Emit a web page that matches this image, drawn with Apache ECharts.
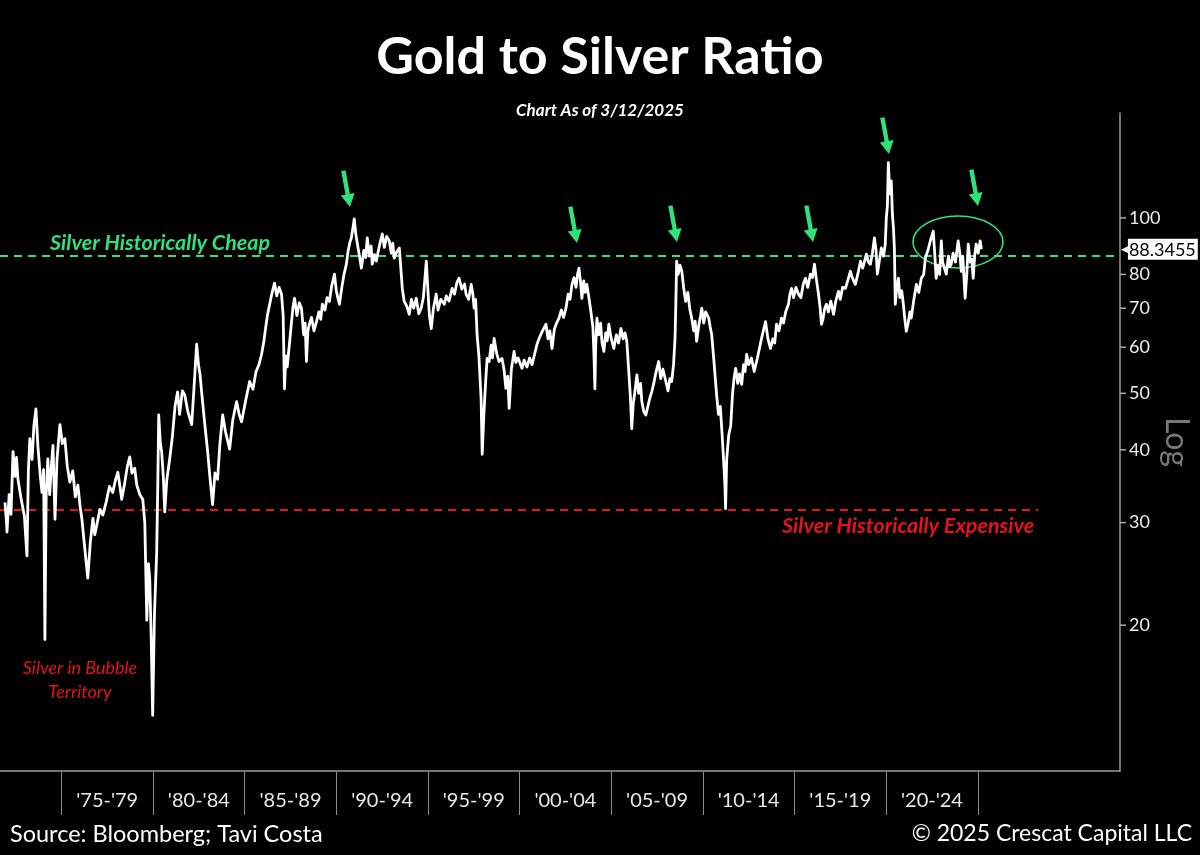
<!DOCTYPE html>
<html>
<head>
<meta charset="utf-8">
<script src="https://cdn.jsdelivr.net/npm/echarts@6/dist/echarts.min.js"></script>
<style>
html,body{margin:0;padding:0;background:#000;}
#chart{width:1200px;height:855px;}
</style>
</head>
<body>
<div id="chart"></div>
<script>
// ---- data: [decimal year, gold/silver ratio] ----
const ratio1972to1985 = [
[1971.92,32.5],[1972.00,30.2],[1972.03,28.9],[1972.15,33.5],[1972.25,31.0],[1972.36,39.7],[1972.47,36.0],[1972.55,38.8],
[1972.63,35.6],[1972.80,33.0],[1972.98,30.8],[1973.12,26.3],[1973.20,37.0],[1973.28,41.8],[1973.40,38.5],[1973.50,44.0],
[1973.61,47.0],[1973.72,40.5],[1973.85,36.0],[1973.94,33.8],[1974.03,37.0],[1974.10,18.9],[1974.17,33.5],[1974.26,38.6],
[1974.36,33.5],[1974.46,37.8],[1974.54,40.7],[1974.65,30.4],[1974.76,38.5],[1974.92,44.2],[1975.05,41.0],[1975.19,41.8],
[1975.32,37.5],[1975.46,35.2],[1975.62,36.8],[1975.76,33.2],[1975.90,34.8],[1976.02,32.0],[1976.12,30.4],[1976.28,27.0],
[1976.44,24.1],[1976.58,27.8],[1976.72,30.5],[1976.82,28.6],[1976.93,29.7],[1977.10,31.6],[1977.26,30.9],[1977.45,32.6],
[1977.62,34.6],[1977.80,33.8],[1977.95,35.5],[1978.08,36.6],[1978.20,34.5],[1978.29,32.9],[1978.45,35.0],[1978.60,37.5],
[1978.73,38.9],[1978.85,36.5],[1979.00,37.2],[1979.11,34.8],[1979.28,33.5],[1979.44,32.9],[1979.55,30.0],[1979.66,20.4],
[1979.75,25.5],[1979.82,24.0],[1979.90,19.0],[1979.98,14.0],[1980.08,21.0],[1980.20,26.7],[1980.26,35.0],[1980.31,45.9],
[1980.40,41.0],[1980.47,39.7],[1980.56,36.0],[1980.64,31.3],[1980.75,35.5],[1980.91,38.6],[1981.05,42.0],[1981.20,47.5],
[1981.34,50.3],[1981.45,46.0],[1981.60,50.5],[1981.73,49.7],[1981.90,46.5],[1982.11,44.2],[1982.25,52.0],[1982.38,60.7],
[1982.48,56.0],[1982.56,54.0],[1982.65,50.3],[1982.80,45.0],[1982.98,39.7],[1983.10,36.0],[1983.25,32.2],[1983.38,36.5],
[1983.52,35.6],[1983.65,41.0],[1983.80,45.9],[1983.95,43.0],[1984.18,40.1],[1984.35,45.0],[1984.56,48.4],[1984.70,46.0],
[1984.83,44.7],[1985.05,48.5],[1985.27,52.4]
];
const ratio1985to1998 = [
[1985.45,50.8],[1985.62,54.5],[1985.78,56.0],[1985.92,58.3],[1986.05,61.5],[1986.15,65.0],[1986.25,68.3],[1986.40,72.0],
[1986.52,75.0],[1986.63,77.3],[1986.75,73.5],[1986.88,76.0],[1987.01,74.0],[1987.10,68.0],[1987.17,50.9],[1987.25,58.0],
[1987.32,55.5],[1987.44,60.7],[1987.55,66.0],[1987.64,70.5],[1987.72,72.8],[1987.85,68.0],[1987.98,71.5],[1988.10,70.0],
[1988.22,63.0],[1988.30,66.0],[1988.37,56.7],[1988.45,64.0],[1988.53,65.7],[1988.65,67.5],[1988.78,64.0],[1988.92,66.4],
[1989.05,69.0],[1989.15,67.0],[1989.24,71.1],[1989.38,69.5],[1989.50,73.0],[1989.62,71.9],[1989.75,76.5],[1989.90,80.1],
[1990.00,75.0],[1990.08,73.0],[1990.17,71.1],[1990.30,76.0],[1990.42,80.0],[1990.55,83.3],[1990.65,88.0],[1990.75,91.0],
[1990.82,92.4],[1990.98,99.6],[1991.06,94.0],[1991.15,90.2],[1991.25,86.5],[1991.37,82.0],[1991.50,88.0],[1991.60,85.5],
[1991.69,92.4],[1991.80,86.0],[1991.90,89.5],[1991.96,83.3],[1992.08,86.5],[1992.18,84.3],[1992.30,88.0],[1992.40,91.0],
[1992.51,93.9],[1992.62,89.0],[1992.75,93.0],[1992.89,91.3],[1993.00,87.0],[1993.08,90.5],[1993.16,85.3],[1993.30,87.5],
[1993.44,88.8],[1993.52,82.0],[1993.60,75.7],[1993.70,72.0],[1993.85,70.5],[1993.98,68.3],[1994.10,72.5],[1994.22,70.0],
[1994.36,72.8],[1994.50,68.5],[1994.63,70.0],[1994.75,73.0],[1994.91,84.3],[1995.00,75.0],[1995.08,68.0],[1995.18,64.6],
[1995.30,70.0],[1995.45,74.0],[1995.55,69.5],[1995.70,72.5],[1995.89,71.1],[1996.00,73.5],[1996.15,72.0],[1996.32,75.7],
[1996.45,74.0],[1996.58,77.5],[1996.70,78.8],[1996.85,75.5],[1997.00,77.0],[1997.08,74.0],[1997.22,72.5],[1997.36,76.9],
[1997.45,74.0],[1997.52,70.0],[1997.60,72.5],[1997.68,63.1],[1997.78,58.0],[1997.90,49.0],[1997.96,39.3]
];
const ratio1998to2011 = [
[1998.05,46.0],[1998.15,52.5],[1998.23,57.4],[1998.34,56.7],[1998.45,60.5],[1998.52,57.5],[1998.61,62.1],[1998.75,58.5],
[1998.88,56.7],[1999.04,57.4],[1999.15,55.0],[1999.25,51.0],[1999.35,53.5],[1999.43,47.1],[1999.55,55.0],[1999.70,59.0],
[1999.80,56.5],[1999.92,57.5],[2000.13,55.2],[2000.25,57.0],[2000.40,55.5],[2000.55,57.5],[2000.68,56.0],[2000.80,58.0],
[2000.95,60.7],[2001.10,62.5],[2001.25,64.0],[2001.44,65.7],[2001.55,62.0],[2001.65,64.0],[2001.77,59.7],[2001.90,64.5],
[2002.02,66.0],[2002.15,67.3],[2002.28,69.5],[2002.40,67.5],[2002.53,70.0],[2002.65,74.0],[2002.75,72.5],[2002.86,76.9],
[2002.97,79.0],[2003.08,76.0],[2003.16,80.0],[2003.24,82.0],[2003.32,78.0],[2003.40,72.8],[2003.50,78.0],[2003.58,74.5],
[2003.67,76.9],[2003.78,73.0],[2003.89,69.1],[2004.00,65.0],[2004.06,58.0],[2004.11,50.9],[2004.15,60.0],[2004.22,67.3],
[2004.32,63.0],[2004.42,66.0],[2004.50,61.0],[2004.60,59.0],[2004.70,63.5],[2004.78,61.5],[2004.87,65.7],[2004.98,62.5],
[2005.14,59.7],[2005.28,63.0],[2005.40,61.0],[2005.53,64.6],[2005.65,62.0],[2005.75,63.5],[2005.85,61.4],[2005.95,55.0],
[2006.05,49.0],[2006.12,43.5],[2006.20,48.0],[2006.30,50.5],[2006.40,53.8],[2006.50,50.0],[2006.60,52.0],[2006.67,48.4],
[2006.78,46.5],[2006.89,45.9],[2007.00,47.5],[2007.10,49.0],[2007.21,50.3],[2007.32,52.0],[2007.45,54.5],[2007.59,56.7],
[2007.70,53.0],[2007.82,55.0],[2007.98,52.4],[2008.10,50.5],[2008.20,53.0],[2008.30,52.4],[2008.40,56.0],[2008.48,62.0],
[2008.52,70.0],[2008.57,84.3],[2008.65,80.0],[2008.75,83.0],[2008.85,81.0],[2008.95,76.0],[2009.06,71.9],[2009.18,74.5],
[2009.28,70.0],[2009.39,67.3],[2009.50,64.0],[2009.58,66.5],[2009.66,61.4],[2009.78,65.5],[2009.88,68.0],[2009.94,70.0],
[2010.05,66.0],[2010.15,69.0],[2010.32,67.3],[2010.40,65.0],[2010.48,63.1],[2010.60,57.0],[2010.68,53.0],[2010.75,49.7],
[2010.85,46.0],[2010.95,47.5],[2011.03,43.5],[2011.12,39.0],[2011.20,35.0],[2011.24,31.7]
];
const ratio2011to2025 = [
[2011.30,38.5],[2011.41,42.4],[2011.52,44.0],[2011.62,50.0],[2011.70,53.0],[2011.79,55.2],[2011.90,52.0],[2012.00,54.0],
[2012.12,51.8],[2012.22,56.0],[2012.30,54.5],[2012.39,58.3],[2012.50,56.0],[2012.65,57.5],[2012.80,54.5],[2012.95,57.0],
[2013.10,60.0],[2013.20,62.1],[2013.30,64.0],[2013.42,66.4],[2013.55,62.0],[2013.69,59.7],[2013.82,62.0],[2013.92,61.0],
[2014.02,65.7],[2014.15,64.0],[2014.29,67.3],[2014.40,66.0],[2014.52,69.0],[2014.67,71.1],[2014.75,74.0],[2014.84,75.7],
[2014.95,73.0],[2015.08,76.0],[2015.22,74.0],[2015.35,73.0],[2015.48,77.0],[2015.60,78.8],[2015.72,76.0],[2015.87,80.1],
[2015.98,79.0],[2016.09,83.3],[2016.18,79.0],[2016.31,74.0],[2016.40,70.0],[2016.47,65.7],[2016.55,67.0],[2016.65,70.0],
[2016.74,71.1],[2016.85,69.0],[2016.98,72.0],[2017.13,68.3],[2017.25,72.0],[2017.40,74.8],[2017.50,72.5],[2017.62,76.0],
[2017.78,75.7],[2017.90,78.0],[2018.05,81.0],[2018.15,79.0],[2018.32,76.9],[2018.45,80.0],[2018.60,84.3],[2018.72,82.0],
[2018.85,85.0],[2018.92,86.7],[2019.03,84.0],[2019.14,83.3],[2019.25,87.0],[2019.36,92.4],[2019.45,88.0],[2019.52,80.1],
[2019.62,84.0],[2019.74,88.8],[2019.86,86.0],[2019.95,90.0],[2020.01,100.0],[2020.07,105.0],[2020.12,124.4],[2020.20,110.0],
[2020.28,115.8],[2020.34,101.6],[2020.40,96.0],[2020.45,88.8],[2020.50,71.1],[2020.58,76.0],[2020.67,78.8],[2020.75,73.0],
[2020.85,75.0],[2020.94,71.1],[2021.02,67.0],[2021.10,63.9],[2021.20,66.0],[2021.30,69.0],[2021.37,67.3],[2021.50,72.0],
[2021.65,76.9],[2021.78,74.5],[2021.92,78.8],[2022.05,80.0],[2022.14,85.3],[2022.28,88.0],[2022.41,91.3],[2022.57,94.9],
[2022.65,87.0],[2022.73,78.8],[2022.82,83.0],[2022.92,80.0],[2023.01,91.3],[2023.08,84.0],[2023.18,82.0],[2023.28,80.1],
[2023.40,86.0],[2023.48,82.5],[2023.55,83.3],[2023.65,87.0],[2023.78,84.0],[2023.93,91.3],[2024.02,87.0],[2024.10,81.0],
[2024.18,86.0],[2024.31,72.8],[2024.40,80.0],[2024.48,90.2],[2024.58,84.0],[2024.67,85.0],[2024.75,78.8],[2024.83,86.0],
[2024.91,90.2],[2025.02,87.0],[2025.13,91.3],[2025.20,88.3455]
];
const yTicks = [20, 30, 40, 50, 60, 70, 80, 100];
const periodBounds = [1975, 1980, 1985, 1990, 1995, 2000, 2005, 2010, 2015, 2020, 2025];
const periodCenters = [1977.5, 1982.5, 1987.5, 1992.5, 1997.5, 2002.5, 2007.5, 2012.5, 2017.5, 2022.5];
const periodLabels = ["'75-'79", "'80-'84", "'85-'89", "'90-'94", "'95-'99", "'00-'04", "'05-'09", "'10-'14", "'15-'19", "'20-'24"];
const cheapLevel = 86.1;
const expensiveLevel = 31.5;
const expensiveEnd = 2028.3;
const X_MIN = 1971.65, X_MAX = 2032.76;
const Y_MIN = 11.24, Y_MAX = 151.4;

const GREEN = '#2fe27a';
const RED = '#e3141b';
const FONT = 'Lato, "Open Sans", sans-serif';

const seriesData = ratio1972to1985.concat(ratio1985to1998, ratio1998to2011, ratio2011to2025);
const lastValue = seriesData[seriesData.length - 1][1];

const arrowTips = [[350, 207], [577, 243], [677, 242], [813, 242], [889, 154], [978, 206]];
function arrow(p) {
  return {
    type: 'group', x: p[0], y: p[1], rotation: 0.18, silent: true,
    children: [
      { type: 'polygon', shape: { points: [[0, 0], [-7, -13], [7, -13]] }, style: { fill: GREEN } },
      { type: 'rect', shape: { x: -2.2, y: -37, width: 4.4, height: 25 }, style: { fill: GREEN } }
    ]
  };
}

const chart = echarts.init(document.getElementById('chart'), null, { renderer: 'canvas' });

const tickItems = yTicks.map(v => ({
  yAxis: v,
  lineStyle: { color: 'rgba(0,0,0,0)', width: 0 },
  label: { formatter: '{t|}{n|' + v + '}' }
}));

const option = {
  backgroundColor: '#000',
  animation: false,
  grid: { left: 0, right: 78, top: 113, bottom: 84, containLabel: false },
  xAxis: {
    type: 'value', min: X_MIN, max: X_MAX,
    axisLine: { show: true, onZero: false, lineStyle: { color: '#9a9a9a', width: 1.5 } },
    axisTick: { show: true, customValues: periodBounds, length: 44, lineStyle: { color: '#8a8a8a', width: 1 } },
    axisLabel: {
      show: true, customValues: periodCenters, margin: 20,
      color: '#e8e8e8', fontSize: 20, fontFamily: FONT,
      formatter: v => periodLabels[Math.round((v - periodCenters[0]) / 5)]
    },
    splitLine: { show: false }
  },
  yAxis: {
    type: 'log', logBase: 10, position: 'right', min: Y_MIN, max: Y_MAX,
    axisLine: { show: true, lineStyle: { color: '#9a9a9a', width: 1.5 } },
    axisTick: { show: false },
    axisLabel: { show: false },
    splitLine: { show: false },
    name: 'Log', nameLocation: 'middle', nameRotate: -90, nameGap: 40,
    nameTextStyle: { color: '#777777', fontSize: 32, fontFamily: FONT }
  },
  graphic: [
    { type: 'text', silent: true, style: { text: 'Gold to Silver Ratio', x: 600, y: 57, align: 'center', verticalAlign: 'middle', fill: '#fff', font: 'bold 52px ' + FONT } },
    { type: 'text', silent: true, style: { text: 'Chart As of 3/12/2025', x: 600, y: 111, align: 'center', verticalAlign: 'middle', fill: '#fff', font: 'italic bold 17px ' + FONT } },
    { type: 'text', silent: true, style: { text: 'Silver Historically Cheap', x: 50, y: 243, align: 'left', verticalAlign: 'middle', fill: GREEN, font: 'italic bold 21.5px ' + FONT } },
    { type: 'text', silent: true, style: { text: 'Silver Historically Expensive', x: 782, y: 526, align: 'left', verticalAlign: 'middle', fill: RED, font: 'italic bold 21.5px ' + FONT } },
    { type: 'text', silent: true, style: { text: 'Silver in Bubble\nTerritory', x: 80, y: 680, align: 'center', verticalAlign: 'middle', fill: RED, font: 'italic 18px ' + FONT, lineHeight: 24 } },
    { type: 'text', silent: true, style: { text: 'Source: Bloomberg; Tavi Costa', x: 10, y: 834, align: 'left', verticalAlign: 'middle', fill: '#fff', font: '23.5px ' + FONT } },
    { type: 'text', silent: true, style: { text: '\u00A9 2025 Crescat Capital LLC', x: 1192, y: 834, align: 'right', verticalAlign: 'middle', fill: '#fff', font: '23px ' + FONT } },
    { type: 'ellipse', silent: true, shape: { cx: 958, cy: 242, rx: 45, ry: 26 }, style: { fill: 'none', stroke: GREEN, lineWidth: 1.6 } }
  ].concat(arrowTips.map(arrow)),
  series: [{
    type: 'line',
    data: seriesData,
    showSymbol: false,
    symbol: 'none',
    lineStyle: { color: '#ffffff', width: 2.8, join: 'round' },
    z: 5,
    markLine: {
      silent: true,
      symbol: ['none', 'none'],
      animation: false,
      label: {
        show: true, position: 'end', distance: 0,
        color: '#eeeeee', fontSize: 18, fontFamily: FONT,
        rich: {
          t: { width: 6, height: 1.5, backgroundColor: '#aaaaaa' },
          n: { color: '#eeeeee', fontSize: 18, fontFamily: FONT, padding: [0, 0, 0, 3] },
          p: { color: '#ffffff', fontSize: 9, fontFamily: 'DejaVu Sans', padding: [0, 0, 0, 1] },
          b: { color: '#000000', backgroundColor: '#ffffff', fontSize: 18, fontFamily: FONT, padding: [2, 2, 1, 1] }
        }
      },
      data: tickItems.concat([
        { yAxis: lastValue, lineStyle: { color: 'rgba(0,0,0,0)', width: 0 }, label: { formatter: '{p|\u25C0}{b|' + lastValue + '}' } },
        { yAxis: cheapLevel, lineStyle: { color: GREEN, type: [8, 6], width: 2 }, label: { show: false } },
        [
          { coord: [X_MIN, expensiveLevel], lineStyle: { color: RED, type: [8, 6], width: 2 }, label: { show: false } },
          { coord: [expensiveEnd, expensiveLevel] }
        ]
      ])
    }
  }]
};
chart.setOption(option);
</script>
</body>
</html>
